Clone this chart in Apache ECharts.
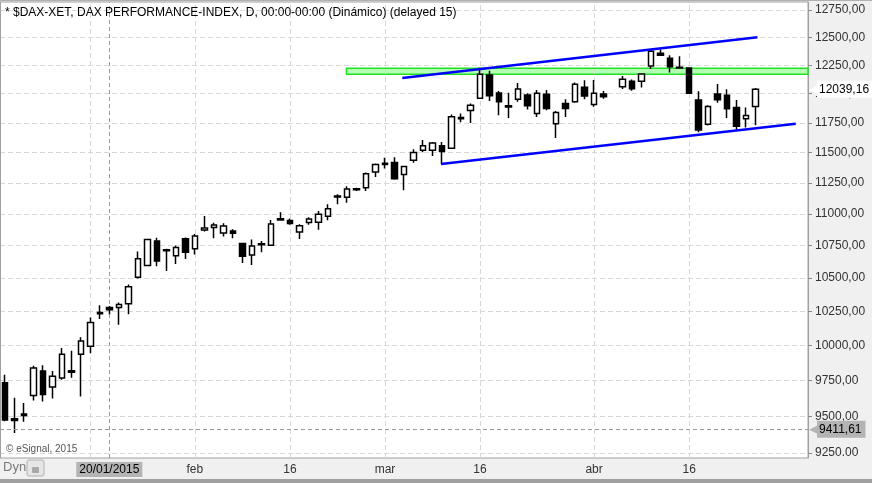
<!DOCTYPE html>
<html><head><meta charset="utf-8">
<script src="https://cdn.jsdelivr.net/npm/echarts@6/dist/echarts.min.js"></script>
<style>html,body{margin:0;padding:0;background:#f0f0f0}#c{width:872px;height:483px}</style>
</head><body><div id="c"></div>
<script>
// trading-day categories (one empty slot for the Easter gap, empty slots on the right)
const dates = [
 '05/01','06/01','07/01','08/01','09/01','12/01','13/01','14/01','15/01','16/01',
 '19/01','20/01','21/01','22/01','23/01','26/01','27/01','28/01','29/01','30/01',
 '02/02','03/02','04/02','05/02','06/02','09/02','10/02','11/02','12/02','13/02',
 '16/02','17/02','18/02','19/02','20/02','23/02','24/02','25/02','26/02','27/02',
 '02/03','03/03','04/03','05/03','06/03','09/03','10/03','11/03','12/03','13/03',
 '16/03','17/03','18/03','19/03','20/03','23/03','24/03','25/03','26/03','27/03',
 '30/03','31/03','01/04','02/04','03/04','07/04','08/04','09/04','10/04','13/04',
 '14/04','15/04','16/04','17/04','20/04','21/04','22/04','23/04','24/04','27/04',
 '28/04','29/04','30/04','01/05','04/05'
];
const openV = [
 9733,9482,9505,9644,9816,9703,9766,9808,9937,9994,
 10232,10278,10278,10307,10506,10596,10786,10718,10671,10804,
 10725,10872,10892,10849,10865,10766,10676,10756,10753,10950,
 10947,10856,10931,10934,10980,11135,11133,11193,11210,11339,
 11400,11417,11317,11435,11518,11518,11555,11535,11795,11855,
 11960,12164,12006,11885,11951,11989,11829,11995,11741,11916,
 11930,12056,11907,11997,null,12061,12109,12109,12243,12357,
 12311,12232,12226,11945,11738,11997,11986,11881,11785,11890
];
const closeV = [
 9474,9470,9515,9837,9651,9780,9937,9818,10033,10168,
 10242,10262,10300,10434,10648,10797,10631,10710,10735,10698,
 10825,10887,10911,10903,10846,10668,10747,10764,10919,10960,
 10923,10906,10959,10996,11040,11143,11199,11201,11325,11400,
 11410,11283,11383,11500,11555,11578,11507,11802,11785,11899,
 12170,11982,11930,11895,12041,11895,12004,11872,11837,11872,
 12083,11980,12004,11974,null,12126,12044,12172,12375,12339,
 12237,12226,12004,11689,11890,11948,11869,11721,11811,12039.16
];
const lowV = [
 9465,9385,9462,9609,9602,9623,9754,9768,9637,9943,
 10194,10228,10150,10228,10496,10591,10591,10553,10607,10646,
 10681,10861,10807,10820,10807,10615,10599,10698,10750,10948,
 10913,10802,10913,10874,10948,11077,11089,11183,11183,11297,
 11367,11275,11190,11415,11502,11471,11407,11530,11755,11747,
 11955,11936,11814,11790,11930,11864,11799,11858,11622,11799,
 11921,11951,11886,11956,null,12041,12026,12053,12217,12335,
 12185,12222,12000,11669,11727,11921,11790,11684,11710,11729
];
const highV = [
 9790,9628,9591,9853,9858,9816,9982,9961,10059,10204,
 10295,10290,10315,10451,10704,10804,10812,10725,10750,10814,
 10840,10983,10929,10926,10877,10771,10797,10786,10951,11012,
 10963,10918,10972,11022,11077,11157,11221,11210,11334,11409,
 11455,11460,11390,11527,11605,11587,11587,11820,11829,11916,
 12228,12202,12024,12009,12094,12004,12032,12032,11851,11951,
 12097,12118,12120,12024,null,12155,12123,12178,12393,12390,
 12339,12330,12232,12021,11901,12085,12039,11945,11881,12050
];
const yTicks = [9250,9500,9750,10000,10250,10500,10750,11000,11250,11500,11750,12000,12250,12500,12750];
const xGridIdx = [9,20,30,40,50,62,72];
const xLabelIdx = [20,30,40,50,62,72];
const xLabelText = ['feb','16','mar','16','abr','16'];
const upperTrend = [[41.82,12137],[79.18,12500]];
const lowerTrend = [[45.89,11404],[83.21,11742]];
const bandX = [35.95, 84.5];
const bandY = [12170, 12223];
const lastPrice = 12039.16;
const cursorPrice = 9411.61;
const cursorIdx = 11;
const cursorLabel = '20/01/2015';

const FONT = '"Liberation Sans", Arial, sans-serif';
const fmt = v => v.toFixed(2).replace('.', ',');
const candleData = dates.map((d, i) => (i < openV.length && openV[i] != null)
  ? [openV[i], closeV[i], lowV[i], highV[i]] : '-');
const gridLine = {color: '#d8d8d8', type: [5, 3], width: 1};

const chart = echarts.init(document.getElementById('c'), null, {renderer: 'canvas'});
chart.setOption({
  animation: false,
  backgroundColor: '#f0f0f0',
  textStyle: {fontFamily: FONT},
  title: [
    {text: '* $DAX-XET, DAX PERFORMANCE-INDEX, D, 00:00-00:00 (Dinámico) (delayed 15)',
     left: 5, top: 7, padding: 0,
     textStyle: {fontSize: 12, fontWeight: 'normal', color: '#000', fontFamily: FONT}},
    {text: '© eSignal, 2015', left: 6, top: 444, padding: 0,
     textStyle: {fontSize: 10, fontWeight: 'normal', color: '#555', fontFamily: FONT}},
    {text: 'Dyn', left: 3, top: 461, padding: 0,
     textStyle: {fontSize: 13, fontWeight: 'normal', color: '#7a7a7a', fontFamily: FONT}}
  ],
  graphic: [
    {type: 'rect', shape: {x: 0, y: 0, width: 872, height: 1}, style: {fill: '#b0b0b0'}, silent: true},
    {type: 'rect', shape: {x: 0, y: 2, width: 1, height: 456}, style: {fill: '#a0a0a0'}, silent: true, z: 10},
    {type: 'rect', shape: {x: 0, y: 479, width: 872, height: 4}, style: {fill: '#a0a0a0'}, silent: true},
    {type: 'rect', shape: {x: 27, y: 460, width: 17, height: 16, r: 2}, style: {fill: '#e6e6e6', stroke: '#b0b0b0', lineWidth: 1}, silent: true},
    {type: 'rect', shape: {x: 32, y: 467, width: 7, height: 6, r: 1}, style: {fill: '#a8a8a8'}, silent: true}
  ],
  grid: {left: -2, right: 64, top: 2, bottom: 25, show: true, backgroundColor: '#fff',
         borderColor: '#a0a0a0', borderWidth: 1},
  xAxis: [
    {type: 'category', data: dates, show: false, boundaryGap: true, position: 'bottom'},
    {type: 'value', min: -0.5, max: 84.5, position: 'bottom',
     axisLine: {show: false, onZero: false},
     axisTick: {show: false},
     axisLabel: {customValues: xLabelIdx, margin: 6, color: '#333', fontSize: 12, fontFamily: FONT,
                 formatter: v => { const k = xLabelIdx.indexOf(Math.round(v)); return k >= 0 ? xLabelText[k] : ''; }},
     splitLine: {show: false}}
  ],
  yAxis: {
    type: 'log', logBase: 10, min: 9217, max: 12824, position: 'right',
    axisLine: {show: true, onZero: false, lineStyle: {color: '#a0a0a0'}},
    axisTick: {show: true, length: 4, customValues: yTicks, lineStyle: {color: '#888'}},
    axisLabel: {customValues: yTicks, margin: 7, color: '#333', fontSize: 12, fontFamily: FONT,
                formatter: v => v === 9250 ? '9250.00' : fmt(v)},
    splitLine: {show: true, lineStyle: gridLine}
  },
  series: [
    {type: 'line', name: 'grid', xAxisIndex: 1, yAxisIndex: 0, data: [], z: 1,
     markLine: {silent: true, symbol: ['none', 'none'], animation: false, z: 1,
       data: xGridIdx.map(i => ({xAxis: i, lineStyle: gridLine, label: {show: false}})).concat([
              {xAxis: cursorIdx, lineStyle: {color: '#9a9a9a', type: [4, 3], width: 1},
               label: {show: true, position: 'start', distance: 4, formatter: cursorLabel,
                       backgroundColor: '#b4b4b4', color: '#000', fontSize: 12, padding: [2, 3, 1, 3], fontFamily: FONT}}])}
    },
    {type: 'candlestick', xAxisIndex: 0, yAxisIndex: 0, data: candleData, barWidth: 6, z: 3,
     itemStyle: {color: '#fff', color0: '#000', borderColor: '#000', borderColor0: '#000', borderWidth: 1.5},
     markLine: {silent: true, symbol: ['none', 'none'], animation: false,
       data: [
         {yAxis: cursorPrice, lineStyle: {color: '#9a9a9a', type: [4, 3], width: 1},
          label: {show: true, position: 'end', distance: 1, formatter: '{a|◀}{b|' + fmt(cursorPrice) + '}',
                  rich: {a: {color: '#b4b4b4', fontSize: 13, padding: [0, -2, 0, 0]},
                         b: {backgroundColor: '#b4b4b4', color: '#000', fontSize: 12, padding: [3, 4, 2, 2], fontFamily: FONT}}}},
         {yAxis: lastPrice, lineStyle: {color: 'rgba(0,0,0,0)', width: 0},
          label: {show: true, position: 'end', distance: 1, formatter: '{a|◀}{b|' + fmt(lastPrice) + '}',
                  rich: {a: {color: '#fff', fontSize: 13, padding: [0, -2, 0, 0]},
                         b: {backgroundColor: '#fff', color: '#000', fontSize: 12, padding: [3, 4, 2, 2], fontFamily: FONT}}}}
       ]}
    },
    {type: 'line', xAxisIndex: 1, yAxisIndex: 0, data: upperTrend, symbol: 'none', z: 4,
     lineStyle: {color: '#0000ff', width: 2.5},
     markArea: {silent: true,
       itemStyle: {color: '#b3ffb3', borderColor: '#22e022', borderWidth: 1.5},
       data: [[{xAxis: bandX[0], yAxis: bandY[1]}, {xAxis: bandX[1], yAxis: bandY[0]}]]}
    },
    {type: 'line', xAxisIndex: 1, yAxisIndex: 0, data: lowerTrend, symbol: 'none', z: 4,
     lineStyle: {color: '#0000ff', width: 2.5}}
  ]
});
</script></body></html>
